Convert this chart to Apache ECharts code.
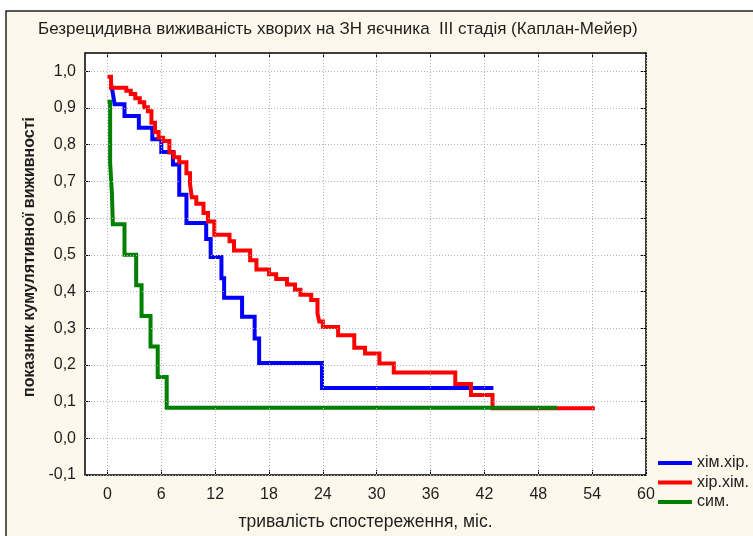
<!DOCTYPE html>
<html>
<head>
<meta charset="utf-8">
<script src="https://cdn.jsdelivr.net/npm/echarts@6/dist/echarts.min.js"></script>
<style>
  html, body { margin: 0; padding: 0; background: #fff; }
  #chart { width: 753px; height: 536px; }
</style>
</head>
<body>
<div id="chart"></div>
<script>
// Kaplan–Meier step data: months since treatment and cumulative survival after each event
const seriesNames = ['хім.хір.', 'хір.хім.', 'сим.'];

const chemSurgMonths = [0.4, 0.6, 0.8, 1.9, 3.5, 5.0, 6.0, 7.3, 8.0, 8.8, 11.0, 11.5, 12.7, 13.0, 15.0, 16.4, 16.9, 23.9, 43.0];
const chemSurgSurv   = [0.966, 0.94, 0.91, 0.878, 0.846, 0.815, 0.78, 0.746, 0.664, 0.587, 0.543, 0.494, 0.436, 0.383, 0.331, 0.272, 0.205, 0.137, 0.137];

const surgChemMonths = [0.0, 0.4, 2.1, 2.6, 3.1, 3.6, 4.1, 4.5, 4.9, 5.3,
                        5.7, 6.2, 6.9, 7.4, 8.0, 8.8, 9.2, 9.4, 9.9, 10.7,
                        11.2, 11.9, 13.6, 14.1, 15.9, 16.6, 18.0, 18.8, 20.0, 20.9,
                        21.5, 22.7, 23.4, 23.6, 24.0, 25.7, 27.5, 28.7, 30.3, 31.9,
                        38.75, 40.5, 42.9, 54.3];
const surgChemSurv   = [0.985, 0.955, 0.947, 0.938, 0.927, 0.916, 0.902, 0.891, 0.86, 0.835,
                        0.819, 0.81, 0.779, 0.766, 0.752, 0.722, 0.693, 0.657, 0.639, 0.614,
                        0.591, 0.555, 0.537, 0.512, 0.485, 0.46, 0.447, 0.434, 0.419, 0.405,
                        0.391, 0.377, 0.34, 0.318, 0.303, 0.281, 0.247, 0.231, 0.204, 0.179,
                        0.148, 0.118, 0.082, 0.082];

const sympMonths = [0.0, 0.3, 0.5, 0.6, 1.9, 3.2, 3.8, 4.8, 5.6, 6.6, 50.1];
const sympSurv   = [0.917, 0.75, 0.667, 0.583, 0.5, 0.417, 0.333, 0.25, 0.167, 0.083, 0.083];

// Axis tick values
const xTicks = [0, 6, 12, 18, 24, 30, 36, 42, 48, 54, 60];
const yTicks = [-0.1, 0.0, 0.1, 0.2, 0.3, 0.4, 0.5, 0.6, 0.7, 0.8, 0.9, 1.0];

const FONT = "'Liberation Sans', Arial, sans-serif";
const TEXT = '#1e1e1e';
const GRID_COLOR = '#b4b4b4';

const pairs = (xs, ys) => xs.map((x, i) => [x, ys[i]]);

function stepSeries(name, color, data, z) {
  return {
    name, type: 'line', step: 'end', data,
    showSymbol: false, symbol: 'none', z,
    lineStyle: { color, width: 4, join: 'miter' },
    itemStyle: { color },
    emphasis: { disabled: true },
    silent: true
  };
}

// Dotted reference lines at every tick value, drawn beneath the curves
const gridSeries = {
  name: 'gridlines', type: 'line', data: [], z: 1, silent: true, symbol: 'none',
  markLine: {
    silent: true, animation: false, symbol: ['none', 'none'],
    label: { show: false },
    emphasis: { disabled: true },
    lineStyle: { color: GRID_COLOR, width: 1, type: [1, 2] },
    data: xTicks.map(v => ({ xAxis: v })).concat(yTicks.map(v => ({ yAxis: v })))
  }
};

const tickStyle = { color: '#000', width: 1 };
const noLine = { show: false, onZero: false };

const chart = echarts.init(document.getElementById('chart'), null, { renderer: 'canvas' });
chart.setOption({
  animation: false,
  backgroundColor: '#ffffff',
  title: {
    text: 'Безрецидивна виживаність хворих на ЗН яєчника  III стадія (Каплан-Мейер)',
    left: 38, top: 21, padding: 0,
    textStyle: { fontFamily: FONT, fontSize: 17, fontWeight: 'normal', color: TEXT }
  },
  graphic: [
    {
      type: 'rect', z: -100, silent: true,
      shape: { x: 6, y: 11, width: 900, height: 700 },
      style: { fill: '#fdf8ec', stroke: '#222', lineWidth: 1.5 }
    },
    {
      type: 'text', x: 30, y: 257, rotation: Math.PI / 2, silent: true,
      style: {
        text: 'показник кумулятивної виживності',
        font: "bold 16px 'Liberation Sans', Arial, sans-serif",
        fill: TEXT, align: 'center', verticalAlign: 'middle'
      }
    }
  ],
  legend: {
    orient: 'vertical', left: 658, top: 455, padding: 0,
    icon: 'rect', itemWidth: 34, itemHeight: 4, itemGap: 3.5,
    data: seriesNames,
    textStyle: { fontFamily: FONT, fontSize: 16, lineHeight: 16, color: TEXT },
    selectedMode: false
  },
  grid: {
    left: 85, top: 53, right: 107, bottom: 61,
    show: true, backgroundColor: '#ffffff', borderColor: '#000', borderWidth: 1.5
  },
  xAxis: [
    {
      type: 'value', min: -2.5, max: 60, position: 'bottom',
      axisLine: noLine,
      axisTick: { show: true, inside: true, length: 5, customValues: xTicks, lineStyle: tickStyle },
      axisLabel: { customValues: xTicks, margin: 12, fontFamily: FONT, fontSize: 16, color: TEXT },
      splitLine: { show: false },
      name: 'тривалість спостереження, міс.', nameLocation: 'middle', nameGap: 38,
      nameTextStyle: { fontFamily: FONT, fontSize: 17.5, color: TEXT }
    },
    {
      type: 'value', min: -2.5, max: 60, position: 'top',
      axisLine: noLine,
      axisTick: { show: true, inside: true, length: 5, customValues: xTicks, lineStyle: tickStyle },
      axisLabel: { show: false },
      splitLine: { show: false }
    }
  ],
  yAxis: [
    {
      type: 'value', min: -0.1, max: 1.05, position: 'left',
      axisLine: noLine,
      axisTick: { show: true, inside: true, length: 5, customValues: yTicks, lineStyle: tickStyle },
      axisLabel: {
        customValues: yTicks, margin: 9, fontFamily: FONT, fontSize: 16, color: TEXT,
        formatter: v => v.toFixed(1).replace('.', ',')
      },
      splitLine: { show: false }
    },
    {
      type: 'value', min: -0.1, max: 1.05, position: 'right',
      axisLine: noLine,
      axisTick: { show: true, inside: true, length: 5, customValues: yTicks, lineStyle: tickStyle },
      axisLabel: { show: false },
      splitLine: { show: false }
    }
  ],
  series: [
    gridSeries,
    stepSeries(seriesNames[0], '#0000ff', pairs(chemSurgMonths, chemSurgSurv), 2),
    stepSeries(seriesNames[1], '#ff0000', pairs(surgChemMonths, surgChemSurv), 3),
    stepSeries(seriesNames[2], '#008000', pairs(sympMonths, sympSurv), 4)
  ]
});
</script>
</body>
</html>
